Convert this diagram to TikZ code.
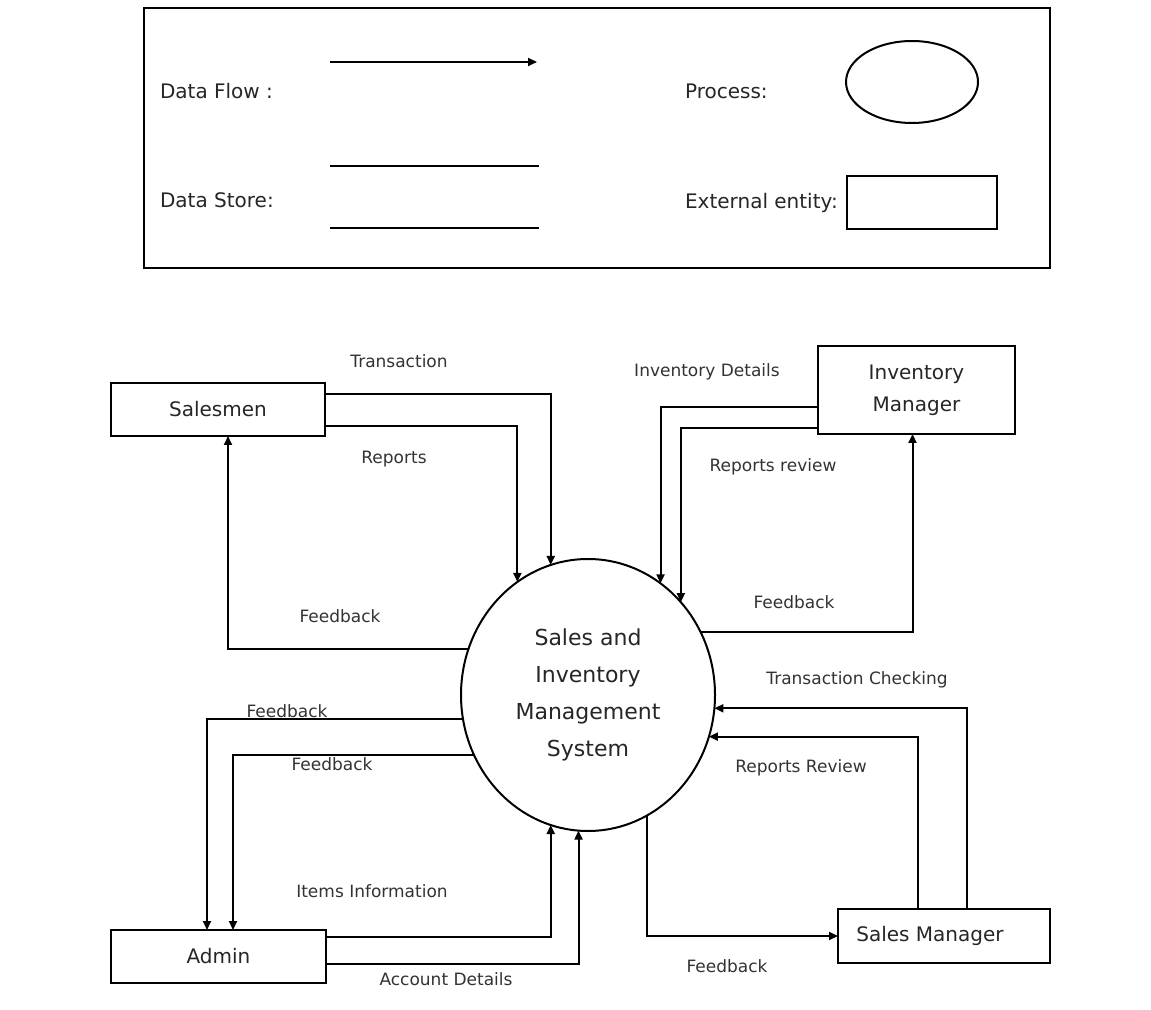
\documentclass[tikz,border=0pt]{standalone}
\usepackage{fontspec}
\setmainfont{DejaVu Sans}
\usetikzlibrary{positioning,shapes,arrows.meta,calc}

\tikzset{
	entity/.style={draw=black, line width=1pt, rectangle, outer sep=0pt, inner sep=0pt, font=\fontsize{10}{16}\selectfont, text=black!85, align=center},
	process/.style={draw=black, line width=1pt, ellipse, outer sep=0pt, inner sep=0pt, minimum width=127pt, minimum height=136pt, font=\fontsize{11}{18.5}\selectfont, text=black!85, align=center},
	flow/.style={black, line width=1pt, -{Triangle[length=4.5pt,width=4pt]}},
	lbl/.style={font=\fontsize{8.5}{10}\selectfont, text=black!80},
	legtext/.style={font=\fontsize{10}{12}\selectfont, text=black!85, anchor=west}
}

\begin{document}
\begin{tikzpicture}[x=0.5pt, y=-0.5pt]

	\useasboundingbox[fill=white] (0,0) rectangle (1151,1010);

	% legend
	\draw[black, line width=1.1pt] (144,8) rectangle (1050,268);
	\node[legtext] (lflow) at (153,91) {Data Flow :};
	\node[legtext] (lstore) at (153,200) {Data Store:};
	\node[legtext] (lproc) at (678,91) {Process:};
	\node[legtext] (lext) at (678,203) {External entity:};
	\draw[flow] (330,62) -- (537,62);
	\draw[black, line width=1pt] (330,166) -- (539,166);
	\draw[black, line width=1pt] (330,228) -- (539,228);
	\node[draw=black, line width=1pt, ellipse, minimum width=66pt, minimum height=41pt] (lcirc) at (912,82) {};
	\node[draw=black, line width=1pt, rectangle, minimum width=75pt, minimum height=26.5pt] (lbox) at (922,202.5) {};

	% entities and process
	\node[process] (sys) at (588,695) {Sales and\\Inventory\\Management\\System};
	\node[entity, minimum width=107pt, minimum height=26.5pt] (sal) at (218,409.5) {Salesmen};
	\node[entity, minimum width=98.5pt, minimum height=44pt] (im) at (916.5,390) {Inventory\\Manager};
	\node[entity, minimum width=107.5pt, minimum height=26.5pt] (adm) at (218.5,956.5) {Admin};
	\node[entity, minimum width=106pt, minimum height=27pt] (sm) at (944,936) {\hspace{-14pt}Sales Manager};

	% salesmen
	\draw[flow] ($(sal.east)+(0,-15.5)$) -| (sys.106);
	\draw[flow] ($(sal.east)+(0,16.5)$) -| (sys.122);
	\draw[flow] (sys.159) -| ($(sal.south)+(10,0)$);
	\node[lbl] (ltrans) at (399,361) {Transaction};
	\node[lbl] (lrep) at (394,459) {Reports};
	\node[lbl] (lfb1) at (340,616) {Feedback};

	% inventory manager
	\draw[flow] ($(im.west)+(0,17)$) -| (sys.57);
	\draw[flow] ($(im.west)+(0,38)$) -| (sys.45);
	\draw[flow] (sys.29) -| ($(im.south)+(-4,0)$);
	\node[lbl] (linv) at (707,372) {Inventory Details};
	\node[lbl] (lrrev) at (773,467) {Reports review};
	\node[lbl] (lfb2) at (794,602) {Feedback};

	% sales manager
	\draw[flow] ($(sm.north)+(23,0)$) |- (sys.-6);
	\draw[flow] ($(sm.north)+(-26,0)$) |- (sys.-19);
	\draw[flow] (sys.-64) |- (sm.west);
	\node[lbl] (ltc) at (857,680) {Transaction Checking};
	\node[lbl] (lrr) at (801,768) {Reports Review};
	\node[lbl] (lfb3) at (727,966) {Feedback};

	% admin
	\draw[flow] (sys.191) -| ($(adm.north)+(-11.5,0)$);
	\draw[flow] (sys.208) -| ($(adm.north)+(14.5,0)$);
	\draw[flow] ($(adm.east)+(0,-19.5)$) -| (sys.254);
	\draw[flow] ($(adm.east)+(0,7.5)$) -| (sys.266);
	\node[lbl] (lfb4) at (287,711) {Feedback};
	\node[lbl] (lfb5) at (332,764) {Feedback};
	\node[lbl] (litem) at (372,891) {Items Information};
	\node[lbl] (lacc) at (446,979) {Account Details};

\end{tikzpicture}
\end{document}
